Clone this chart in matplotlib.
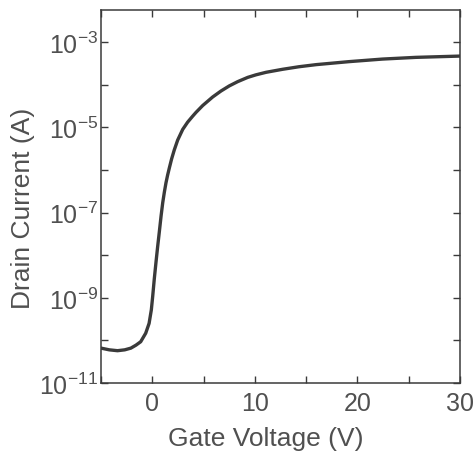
import matplotlib

matplotlib.use("Agg")
import matplotlib.pyplot as plt
import numpy as np
from matplotlib.ticker import FixedLocator, FuncFormatter

# Transfer curve: gate voltage (V) vs log10 of drain current (A)
gate_v = [-5.0, -4.2, -3.4, -2.7, -2.1, -1.6, -1.14, -0.65, -0.32, -0.10,
          0.03, 0.19, 0.36, 0.52, 0.68, 0.85, 1.01, 1.17, 1.33, 1.49,
          1.66, 1.88, 2.14, 2.47, 2.96, 3.44, 3.93, 4.26, 4.91, 5.88,
          6.69, 7.50, 8.32, 9.3, 10.1, 11.1, 12.7, 14.3, 16.0, 19.2,
          22.45, 25.7, 30.0]
log_id = [-10.18, -10.22, -10.24, -10.22, -10.18, -10.11, -10.03, -9.83, -9.60, -9.28,
          -8.97, -8.55, -8.15, -7.79, -7.45, -7.08, -6.77, -6.52, -6.30, -6.12,
          -5.95, -5.74, -5.53, -5.30, -5.05, -4.88, -4.74, -4.65, -4.49, -4.29,
          -4.15, -4.03, -3.93, -3.83, -3.77, -3.71, -3.64, -3.58, -3.53, -3.46,
          -3.40, -3.36, -3.33]

x_ticks = [0, 10, 20, 30]
y_exps = [-11, -9, -7, -5, -3]

INK = "#3a3a3a"
TXT = "#505050"

plt.rcParams["mathtext.default"] = "regular"
plt.rcParams["font.family"] = "Liberation Sans"

fig = plt.figure(figsize=(4.77, 4.60), dpi=100)
ax = fig.add_axes([0.212, 0.165, 0.752, 0.811])

ax.plot(gate_v, 10.0 ** np.array(log_id), color=INK, lw=2.4,
        solid_capstyle="round", solid_joinstyle="round")

ax.set_yscale("log")
ax.set_xlim(-5, 30)
ax.set_ylim(1e-11, 10 ** -2.25)

ax.xaxis.set_major_locator(FixedLocator(np.arange(-5, 31, 5)))
ax.xaxis.set_major_formatter(
    FuncFormatter(lambda v, _: f"{v:.0f}" if v in x_ticks else ""))
ax.yaxis.set_major_locator(FixedLocator([10.0 ** e for e in range(-11, -2)]))
ax.yaxis.set_major_formatter(FuncFormatter(
    lambda v, _: f"$10^{{{round(np.log10(v))}}}$"
    if round(np.log10(v)) in y_exps else ""))
ax.yaxis.set_minor_locator(FixedLocator([]))

ax.tick_params(which="major", direction="in", length=5, width=1.0,
               color=INK, labelcolor=TXT, labelsize=18,
               top=True, right=True)
ax.tick_params(axis="x", pad=6)
ax.tick_params(axis="y", pad=2)
for s in ax.spines.values():
    s.set_color(INK)
    s.set_linewidth(1.1)

ax.set_xlabel("Gate Voltage (V)", fontsize=19, color=TXT)
ax.set_ylabel("Drain Current (A)", fontsize=19, color=TXT)
ax.xaxis.set_label_coords(0.46, -0.115)
ax.yaxis.set_label_coords(-0.185, 0.47)

fig.savefig("out.png", dpi=100)
